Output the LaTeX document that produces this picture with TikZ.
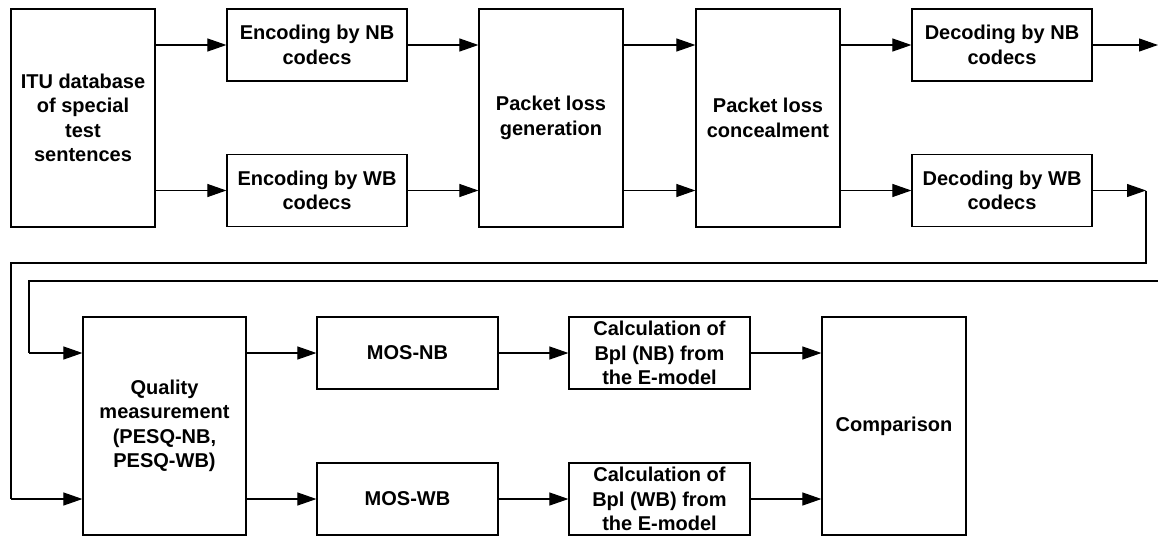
\documentclass[tikz,border=0pt]{standalone}
\usepackage{fontspec}
\setmainfont{Liberation Sans}
\usetikzlibrary{arrows.meta}
\begin{document}
\begin{tikzpicture}[x=1pt,y=-1pt,
  blk/.style={draw=black, line width=1.2pt, align=center, inner sep=0pt,
    font={\fontsize{20}{24.5}\selectfont\bfseries}, text=black},
  tall/.style={blk, minimum width=144pt, minimum height=218pt},
  flat/.style={blk, minimum width=180pt, minimum height=72pt},
  arr/.style={draw=black, line width=1.1pt, -{Triangle[length=19pt,width=13pt]}},
  ln/.style={draw=black, line width=1.1pt}]
\useasboundingbox (0,0) rectangle (1158,536);
% row 1
\node[tall] (itu) at (83,118) {ITU database\\of special\\test\\sentences};
\node[flat] (encnb) at (317,45) {Encoding by NB\\codecs};
\node[flat] (encwb) at (317,190.5) {Encoding by WB\\codecs};
\node[tall] (plg) at (551,118) {Packet loss\\generation};
\node[tall] (plc) at (768,118) {Packet loss\\concealment};
\node[flat] (decnb) at (1002,45) {Decoding by NB\\codecs};
\node[flat] (decwb) at (1002,190.5) {Decoding by WB\\codecs};
% row 2
\node[blk, minimum width=163pt, minimum height=218pt] (qm) at (164.5,426) {Quality\\measurement\\(PESQ-NB,\\PESQ-WB)};
\node[flat, minimum width=181pt] (mosnb) at (407.5,353) {MOS-NB};
\node[flat, minimum width=181pt] (moswb) at (407.5,499) {MOS-WB};
\node[flat, minimum width=181pt] (calcnb) at (659.5,353) {Calculation of\\Bpl (NB) from\\the E-model};
\node[flat, minimum width=181pt] (calcwb) at (659.5,499) {Calculation of\\Bpl (WB) from\\the E-model};
\node[tall] (comp) at (894,426) {Comparison};
% free ends
\coordinate (nbout) at (1158,45);
\coordinate (wbtip) at (1146,190.5);
\coordinate (wbdown) at (1146,263);
\coordinate (wbleft) at (11,263);
\coordinate (nbin) at (1158,281);
\coordinate (nbleft) at (29,281);
% row 1 connectors
\draw[arr] (itu.east |- encnb.west) -- (encnb.west);
\draw[arr] (itu.east |- encwb.west) -- (encwb.west);
\draw[arr] (encnb.east) -- (plg.west |- encnb.east);
\draw[arr] (encwb.east) -- (plg.west |- encwb.east);
\draw[arr] (plg.east |- encnb.east) -- (plc.west |- encnb.east);
\draw[arr] (plg.east |- encwb.east) -- (plc.west |- encwb.east);
\draw[arr] (plc.east |- decnb.west) -- (decnb.west);
\draw[arr] (plc.east |- decwb.west) -- (decwb.west);
\draw[arr] (decnb.east) -- (nbout);
\draw[arr] (decwb.east) -- (wbtip);
% feedback lines
\draw[ln] (wbtip) -- (wbdown) -- (wbleft) -- (wbleft |- moswb.west);
\draw[arr] (wbleft |- moswb.west) -- (qm.west |- moswb.west);
\draw[ln] (nbin) -- (nbleft) -- (nbleft |- mosnb.west);
\draw[arr] (nbleft |- mosnb.west) -- (qm.west |- mosnb.west);
% row 2 connectors
\draw[arr] (qm.east |- mosnb.west) -- (mosnb.west);
\draw[arr] (qm.east |- moswb.west) -- (moswb.west);
\draw[arr] (mosnb.east) -- (calcnb.west);
\draw[arr] (moswb.east) -- (calcwb.west);
\draw[arr] (calcnb.east) -- (comp.west |- calcnb.east);
\draw[arr] (calcwb.east) -- (comp.west |- calcwb.east);
\end{tikzpicture}
\end{document}
